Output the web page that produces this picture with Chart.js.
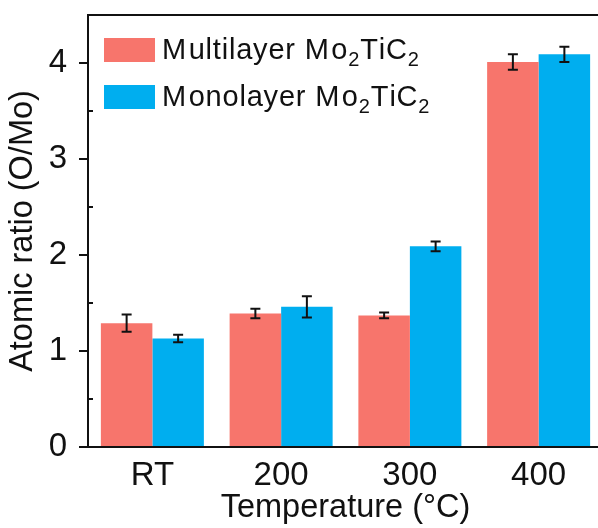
<!DOCTYPE html>
<html>
<head>
<meta charset="utf-8">
<script src="https://cdn.jsdelivr.net/npm/chart.js@4"></script>
<style>
    html, body { margin: 0; padding: 0; background: #fff; overflow: hidden; }
    #wrap { width: 598px; height: 528px; overflow: hidden; }
</style>
</head>
<body>
<div id="wrap"><canvas id="ratioChart" width="603" height="528"></canvas></div>
<script>
// Temperatures on the x-axis
const temperatures = ['RT', '200', '300', '400'];

// O/Mo atomic ratio
const multilayerRatio = [1.29, 1.39, 1.37, 4.01];
const multilayerError = [0.09, 0.05, 0.03, 0.08];
const monolayerRatio = [1.13, 1.46, 2.09, 4.09];
const monolayerError = [0.04, 0.11, 0.05, 0.08];

// y-axis ticks
const yTicks = [0, 1, 2, 3, 4];
const yMinorTicks = [0.5, 1.5, 2.5, 3.5];

const FONT = "'Liberation Sans', Arial, sans-serif";
const subDigits = '₀₁₂₃₄₅₆₇₈₉';

// error bars on top of each bar
const errorBars = {
    id: 'errorBars',
    afterDatasetsDraw(chart) {
        const ctx = chart.ctx;
        const y = chart.scales.y;
        ctx.save();
        ctx.strokeStyle = '#111';
        ctx.lineWidth = 2;
        chart.data.datasets.forEach((ds, i) => {
            const meta = chart.getDatasetMeta(i);
            meta.data.forEach((bar, j) => {
                const v = ds.data[j];
                const e = ds.errors[j];
                const top = y.getPixelForValue(v + e);
                const bot = y.getPixelForValue(v - e);
                ctx.beginPath();
                ctx.moveTo(bar.x, top);
                ctx.lineTo(bar.x, bot);
                ctx.moveTo(bar.x - 5, top);
                ctx.lineTo(bar.x + 5, top);
                ctx.moveTo(bar.x - 5, bot);
                ctx.lineTo(bar.x + 5, bot);
                ctx.stroke();
            });
        });
        ctx.restore();
    },
};

// top frame line + inward minor ticks
const frame = {
    id: 'frame',
    afterDraw(chart) {
        const ctx = chart.ctx;
        const a = chart.chartArea;
        const y = chart.scales.y;
        ctx.save();
        ctx.strokeStyle = '#111';
        ctx.lineWidth = 2;
        ctx.beginPath();
        ctx.moveTo(a.left - 1, a.top);
        ctx.lineTo(a.right + 2, a.top);
        yMinorTicks.forEach(v => {
            const p = Math.round(y.getPixelForValue(v));
            ctx.moveTo(a.left, p);
            ctx.lineTo(a.left + 5, p);
        });
        ctx.stroke();
        ctx.restore();
    },
};

// legend inside the plot, with subscripts
function drawRich(ctx, text, x, y, size) {
    for (const ch of text) {
        const k = subDigits.indexOf(ch);
        if (k >= 0) {
            ctx.font = Math.round(size * 0.68) + 'px ' + FONT;
            ctx.fillText(String(k), x, y + 7);
            x += ctx.measureText(String(k)).width + 1;
        } else {
            ctx.font = size + 'px ' + FONT;
            ctx.fillText(ch, x, y);
            x += ctx.measureText(ch).width + (ch === 'M' ? 2.5 : 0.8);
        }
    }
}

const insideLegend = {
    id: 'insideLegend',
    afterDraw(chart) {
        const ctx = chart.ctx;
        ctx.save();
        ctx.textBaseline = 'alphabetic';
        chart.data.datasets.forEach((ds, i) => {
            const top = 38 + i * 47;
            ctx.fillStyle = ds.backgroundColor;
            ctx.fillRect(104, top, 51, 24);
            ctx.fillStyle = '#111';
            drawRich(ctx, ds.label, 162, top + 21, 29);
        });
        ctx.restore();
    },
};

function createRatioChart() {
    const ctx = document.getElementById('ratioChart').getContext('2d');
    new Chart(ctx, {
        type: 'bar',
        data: {
            labels: temperatures,
            datasets: [
                {
                    label: 'Multilayer Mo₂TiC₂',
                    data: multilayerRatio,
                    errors: multilayerError,
                    backgroundColor: '#F7756C',
                    borderWidth: 0,
                },
                {
                    label: 'Monolayer Mo₂TiC₂',
                    data: monolayerRatio,
                    errors: monolayerError,
                    backgroundColor: '#00AEEF',
                    borderWidth: 0,
                },
            ],
        },
        options: {
            responsive: false,
            animation: false,
            categoryPercentage: 0.8,
            barPercentage: 1.0,
            layout: { padding: { top: 15, right: 0, left: 0, bottom: 0 } },
            plugins: {
                legend: { display: false },
                tooltip: { enabled: false },
            },
            scales: {
                x: {
                    grid: { display: false, drawTicks: false },
                    border: { display: true, color: '#111', width: 2 },
                    ticks: {
                        color: '#111',
                        padding: 9,
                        font: { family: FONT, size: 33 },
                    },
                    title: {
                        display: true,
                        text: 'Temperature (°C)',
                        color: '#111',
                        padding: { top: -6, bottom: 0 },
                        font: { family: FONT, size: 32.5 },
                    },
                    afterFit(scale) {
                        scale.height = 81;
                        scale.paddingLeft = 0;
                        scale.paddingRight = 0;
                    },
                },
                y: {
                    min: 0,
                    max: 4.5,
                    afterBuildTicks(scale) {
                        scale.ticks = yTicks.map(v => ({ value: v }));
                    },
                    grid: {
                        drawOnChartArea: false,
                        drawTicks: true,
                        tickLength: 9,
                        color: '#111',
                        lineWidth: 2,
                    },
                    border: { display: true, color: '#111', width: 2 },
                    ticks: {
                        color: '#111',
                        padding: 12,
                        font: { family: FONT, size: 33 },
                    },
                    title: {
                        display: true,
                        text: 'Atomic ratio (O/Mo)',
                        color: '#111',
                        padding: { top: 4, bottom: 0 },
                        font: { family: FONT, size: 32.5 },
                    },
                    afterFit(scale) {
                        scale.width = 88;
                        scale.paddingTop = 0;
                        scale.paddingBottom = 0;
                    },
                },
            },
        },
        plugins: [errorBars, frame, insideLegend],
    });
}

document.addEventListener('DOMContentLoaded', function () {
    createRatioChart();
});
</script>
</body>
</html>
